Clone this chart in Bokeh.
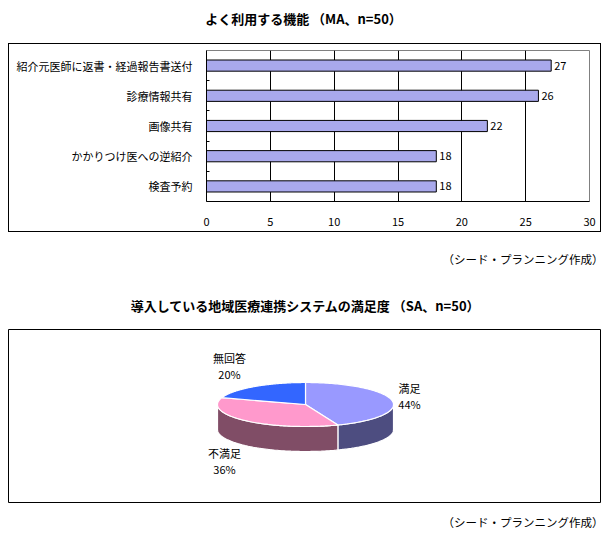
import numpy as np
from bokeh.plotting import figure
from bokeh.models import Range1d, FixedTicker, Label
from bokeh.layouts import column
from bokeh.embed import file_html
from bokeh.resources import INLINE
from bokeh.core.properties import value

# ---------------- data ----------------
bar_categories = ["紹介元医師に返書・経過報告書送付", "診療情報共有", "画像共有",
                  "かかりつけ医への逆紹介", "検査予約"]
bar_values = [27, 26, 22, 18, 18]
x_ticks = [0, 5, 10, 15, 20, 25, 30]
bar_title = "よく利用する機能 （MA、n=50）"
source_note = "（シード・プランニング作成）"

pie_labels = ["満足", "不満足", "無回答"]
pie_values = [44, 36, 20]
pie_title = "導入している地域医療連携システムの満足度 （SA、n=50）"

# ---------------- styles ----------------
FONT = "Noto Sans CJK JP"
PAGE_W = 616
top_colors = ["#9999FF", "#FF99CC", "#3366FF"]
side_colors = ["#4D4D80", "#804D66", "#1A3380"]


def text_strip(height, width=PAGE_W):
    f = figure(width=width, height=height, x_range=Range1d(0, 1), y_range=Range1d(0, 1),
               x_axis_location=None, y_axis_location=None,
               output_backend="svg", toolbar_location=None,
               min_border=0, min_border_left=0, min_border_right=0,
               min_border_top=0, min_border_bottom=0)
    f.grid.visible = False
    f.outline_line_color = None
    f.border_fill_color = "white"
    f.background_fill_color = "white"
    return f


def add_label(f, x, y, text, size="11px", bold=False, align="center"):
    f.add_layout(Label(x=x, y=y, x_units="screen", y_units="screen", text=text,
                       text_align=align, text_baseline="middle",
                       text_font=FONT, text_font_size=size,
                       text_font_style="bold" if bold else "normal",
                       text_color="black"))


# ---- strip 1: title of bar chart (page y 0..43)
t1 = text_strip(43)
add_label(t1, 303, 43 - 18, bar_title, size="13px", bold=True)

# ---- bar chart (inside a bordered box, page x 8..601, y 43..232)
n = len(bar_categories)
bar_pos = [n - i - 0.5 for i in range(n)]          # first category at the top
boundaries = list(range(1, n))

p1 = figure(width=591, height=187,
            y_range=Range1d(0, n), x_range=Range1d(0, 30),
            output_backend="svg", toolbar_location=None,
            min_border_left=197, min_border_right=11,
            min_border_top=6, min_border_bottom=30)
p1.hbar(y=bar_pos, right=bar_values, height=0.37,
        fill_color="#A9A9EC", line_color="black", line_width=1)
p1.text(x=bar_values, y=bar_pos, text=[str(v) for v in bar_values],
        x_offset=3, text_baseline="middle", text_align="left",
        text_font=value(FONT), text_font_size="11px", text_color="black")

p1.xaxis.ticker = FixedTicker(ticks=x_ticks)
p1.xaxis.major_tick_line_color = None
p1.xaxis.minor_tick_line_color = None
p1.xaxis.axis_line_color = "black"
p1.xaxis.major_label_standoff = 10

p1.yaxis.ticker = FixedTicker(ticks=bar_pos, minor_ticks=boundaries)
p1.yaxis.major_label_overrides = {pos: name for pos, name in zip(bar_pos, bar_categories)}
p1.yaxis.major_tick_line_color = None
p1.yaxis.minor_tick_line_color = "black"
p1.yaxis.minor_tick_in = 3
p1.yaxis.minor_tick_out = 0
p1.yaxis.axis_line_color = "black"
p1.yaxis.major_label_standoff = 8
for ax in (p1.xaxis, p1.yaxis):
    ax.major_label_text_font = FONT
    ax.major_label_text_font_size = "11px"
    ax.major_label_text_color = "black"
p1.xgrid.ticker = FixedTicker(ticks=x_ticks[1:-1])
p1.xgrid.grid_line_color = "black"
p1.ygrid.grid_line_color = None
p1.outline_line_color = "#808080"
p1.background_fill_color = "white"
p1.border_fill_color = "white"

box1 = column(p1, styles={"border": "1px solid black"}, margin=(0, 0, 0, 8))

# ---- strip 2: source note + pie title (page y 232..329)
m = text_strip(97)
add_label(m, 603, 97 - 26, source_note, size="11.5px", align="right")
add_label(m, 305, 97 - 73, pie_title, size="13px", bold=True)

# ---- 3D pie, boxed (page x 8..601, y 329..503)
p2 = figure(width=593, height=174, x_range=Range1d(0, 593), y_range=Range1d(0, 174),
            x_axis_location=None, y_axis_location=None,
            output_backend="svg", toolbar_location=None,
            min_border=0, min_border_left=0, min_border_right=0,
            min_border_top=0, min_border_bottom=0, margin=(0, 0, 0, 8))
p2.grid.visible = False
p2.outline_line_color = "black"
p2.border_fill_color = "white"
p2.background_fill_color = "white"

cx, cy, rx, ry, depth = 297, 99, 88, 22, 25
frac = np.array(pie_values, dtype=float) / sum(pie_values)
ends = 90 - np.cumsum(frac) * 360
starts = np.concatenate([[90], ends[:-1]])

side_xs, side_ys, side_cols = [], [], []
top_xs, top_ys = [], []
for s, e, sc in zip(starts, ends, side_colors):
    lo, hi = max(e, -180), min(s, 0)
    if hi > lo:
        t = np.radians(np.linspace(lo, hi, 80))
        xs = cx + rx * np.cos(t)
        yt = cy + ry * np.sin(t)
        side_xs.append(list(xs) + list(xs[::-1]))
        side_ys.append(list(yt) + list((yt - depth)[::-1]))
        side_cols.append(sc)
    t = np.radians(np.linspace(s, e, 120))
    top_xs.append([cx] + list(cx + rx * np.cos(t)))
    top_ys.append([cy] + list(cy + ry * np.sin(t)))

p2.patches(xs=side_xs, ys=side_ys, fill_color=side_cols, line_color="white", line_width=1.2)
p2.patches(xs=top_xs, ys=top_ys, fill_color=top_colors, line_color="white", line_width=1.2)

label_dx = [104, -81, -76]
label_dy = [17, -48, 47]
lx = [cx + d for d in label_dx]
ly = [cy + d for d in label_dy]
p2.text(x=lx, y=ly, text=pie_labels, text_align="center", text_baseline="middle",
        text_font=value(FONT), text_font_size="11px", text_color="black")
p2.text(x=lx, y=[v - 16 for v in ly], text=[f"{v}%" for v in pie_values],
        text_align="center", text_baseline="middle",
        text_font=value(FONT), text_font_size="11px", text_color="black")

# ---- strip 3: source note (page y 503..532)
n2 = text_strip(29)
add_label(n2, 603, 29 - 18, source_note, size="11.5px", align="right")

open("out.html", "w").write(file_html([t1, box1, m, p2, n2], INLINE))
